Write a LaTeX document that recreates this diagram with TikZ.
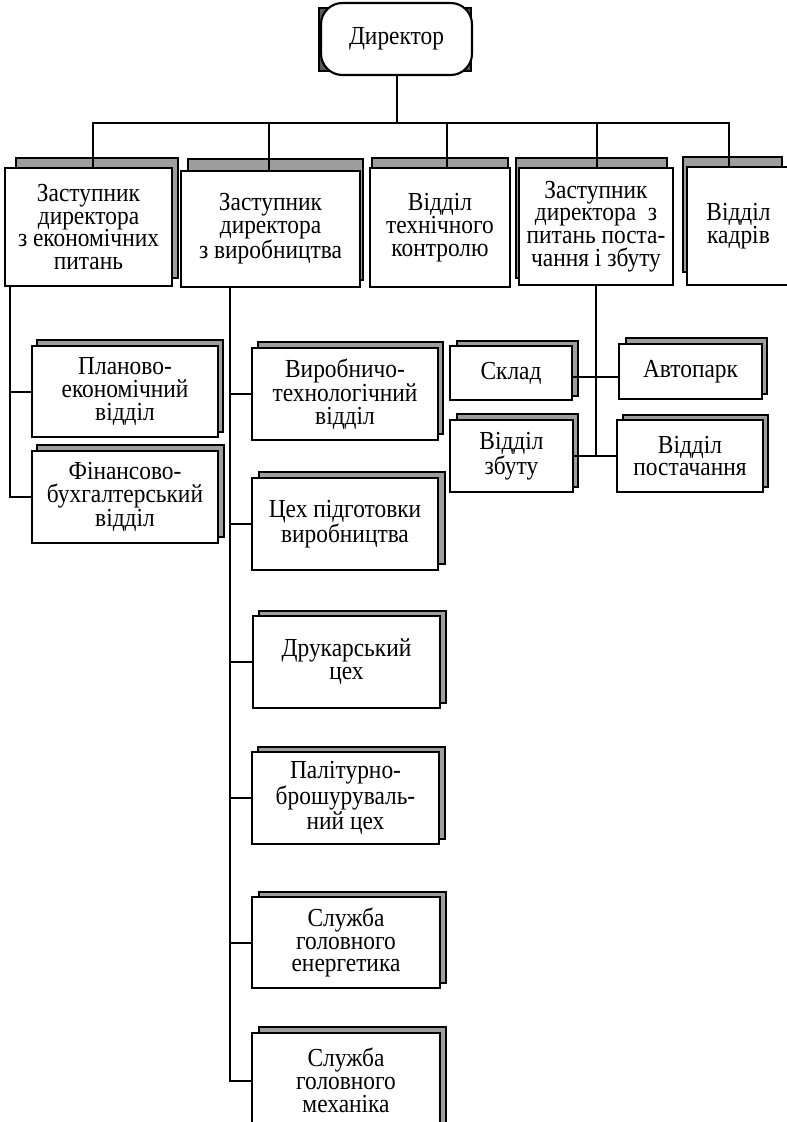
\documentclass[tikz,border=0pt]{standalone}
\usepackage{fontspec}
\setmainfont{Liberation Serif}[FakeStretch=0.9]
\newcommand\orgbox[7][]{%
  \node[box,#1,minimum width={(#5-#3)*0.75pt},minimum height={(#6-#4)*0.75pt}] (#2) at ({(#3+#5)/2},{(#4+#6)/2}) {#7};}
\newcommand\orgshadow[4]{\draw[shd] (#1,#2) rectangle (#3,#4);}
\begin{document}
\begin{tikzpicture}[x=0.75pt,y=-0.75pt,
  box/.style={draw=black,line width=1.6pt,fill=white,align=center,inner sep=0pt,
    font=\fontsize{19.5}{17.1}\selectfont},
  shd/.style={draw=black,line width=0.9pt,fill=black!38},
  dshd/.style={draw=black,line width=0.9pt,fill=black!65},
  conn/.style={line width=1.5pt,line cap=rect}]
\useasboundingbox (0,0) rectangle (787,1122);
% shadows
\draw[dshd] (319,8) rectangle (471,71);
\orgshadow{16}{158}{178}{278}
\orgshadow{188}{159}{363}{280}
\orgshadow{372}{158}{508}{280}
\orgshadow{516}{158}{667}{278}
\orgshadow{683}{157}{782}{272}
\orgshadow{37}{340}{223}{432}
\orgshadow{37}{445}{224}{537}
\orgshadow{258}{342}{443}{434}
\orgshadow{259}{472}{445}{564}
\orgshadow{259}{611}{446}{703}
\orgshadow{258}{747}{445}{839}
\orgshadow{259}{892}{446}{983}
\orgshadow{259}{1027}{446}{1125}
\orgshadow{457}{341}{578}{396}
\orgshadow{626}{338}{767}{394}
\orgshadow{457}{414}{578}{487}
\orgshadow{623}{415}{768}{487}
% boxes
\orgbox[rounded corners=16pt]{dir}{321}{3}{472}{75}{Директор}
\orgbox{z1}{5}{168}{172}{286}{Заступник\\директора\\з економічних\\питань}
\orgbox{z2}{181}{171}{360}{287}{Заступник\\директора\\з виробництва}
\orgbox{z3}{370}{168}{510}{287}{Відділ\\технічного\\контролю}
\orgbox{z4}{519}{168}{673}{285}{Заступник\\директора~~з\\питань поста-\\чання і збуту}
\orgbox{z5}{687}{167}{790}{285}{Відділ\\кадрів}
\orgbox{plan}{32}{346}{218}{437}{Планово-\\економічний\\відділ}
\orgbox{fin}{32}{451}{218}{543}{Фінансово-\\бухгалтерський\\відділ}
\orgbox{vyr}{252}{348}{438}{440}{Виробничо-\\технологічний\\відділ}
\orgbox[line width=2.2pt]{tsekh}{252}{478}{438}{570}{Цех підготовки\\виробництва}
\orgbox{druk}{253}{616}{440}{708}{Друкарський\\цех}
\orgbox{palit}{252}{752}{439}{844}{Палітурно-\\брошуруваль-\\ний цех}
\orgbox{energ}{252}{897}{440}{988}{Служба\\головного\\енергетика}
\orgbox{mekh}{252}{1033}{440}{1128}{Служба\\головного\\механіка}
\orgbox{sklad}{450}{346}{572}{400}{Склад}
\orgbox{avto}{619}{344}{762}{399}{Автопарк}
\orgbox{zbut}{450}{420}{573}{492}{Відділ\\збуту}
\orgbox{post}{617}{420}{763}{492}{Відділ\\постачання}
% connectors
\coordinate (busL) at (93,123);
\coordinate (b2) at (269,123);
\coordinate (b3) at (447,123);
\coordinate (b4) at (597,123);
\coordinate (busR) at (729,123);
\draw[conn] (dir.south) -- (dir.south |- busL);
\draw[conn] (busL) -- (busR);
\draw[conn] (busL) -- (busL |- z1.north);
\draw[conn] (b2) -- (b2 |- z2.north);
\draw[conn] (b3) -- (b3 |- z3.north);
\draw[conn] (b4) -- (b4 |- z4.north);
\draw[conn] (busR) -- (busR |- z5.north);
\coordinate (vL) at (10,0);
\draw[conn] (vL |- z1.south) -- (vL |- fin.west) -- (fin.west);
\draw[conn] (vL |- plan.west) -- (plan.west);
\coordinate (vM) at (230,0);
\draw[conn] (vM |- z2.south) -- (vM |- mekh.west) -- (mekh.west);
\draw[conn] (vM |- vyr.west) -- (vyr.west);
\draw[conn] (vM |- tsekh.west) -- (tsekh.west);
\draw[conn] (vM |- druk.west) -- (druk.west);
\draw[conn] (vM |- palit.west) -- (palit.west);
\draw[conn] (vM |- energ.west) -- (energ.west);
\coordinate (vR) at (596,0);
\coordinate (hS) at (0,377);
\draw[conn] (vR |- z4.south) -- (vR |- zbut.east);
\draw[conn] (zbut.east) -- (post.west);
\draw[conn,line width=2.2pt] (sklad.east |- hS) -- (avto.west |- hS);
\end{tikzpicture}
\end{document}
